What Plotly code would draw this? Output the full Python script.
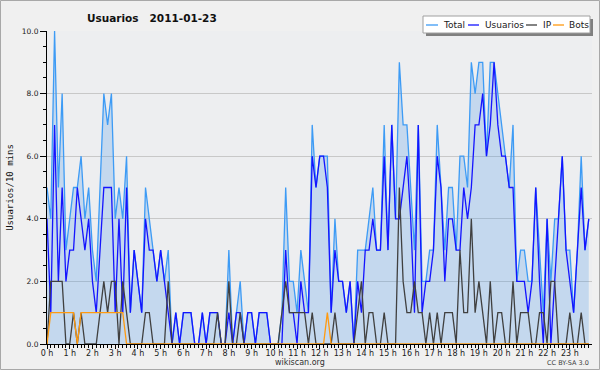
import plotly.graph_objects as go
import pandas as pd

# ---------------- data (10-minute intervals, 2011-01-23) ----------------
times = pd.date_range("2011-01-23 00:00", periods=144, freq="10min")

total = [
    5, 4, 10, 5, 8, 3, 4, 5, 5, 6, 4, 5, 3, 2, 5, 8, 7, 8, 4, 5, 4, 6, 1, 3, 2,
    1, 5, 4, 3, 2, 3, 2, 3, 0, 1, 0, 1, 1, 1, 0, 0, 1, 0, 1, 1, 1, 0, 0, 3, 0,
    1, 2, 0, 1, 1, 0, 1, 1, 1, 0, 0, 0, 1, 5, 2, 2, 1, 3, 2, 1, 7, 5, 6, 6, 6,
    1, 4, 2, 2, 1, 2, 0, 3, 3, 3, 4, 5, 3, 3, 7, 3, 7, 4, 9, 7, 7, 5, 3, 7,
    2, 2, 3, 3, 7, 5, 3, 5, 5, 3, 6, 6, 5, 9, 8, 9, 9, 6, 9, 9, 8, 7, 6, 5, 7,
    2, 3, 3, 2, 2, 5, 3, 1, 4, 2, 4, 4, 6, 3, 3, 1, 3, 6, 3, 4,
]
usuarios = [
    4, 1, 7, 2, 5, 2, 3, 3, 5, 4, 3, 4, 2, 1, 3, 5, 5, 5, 1, 4, 1, 5, 1, 3, 2,
    1, 4, 3, 3, 2, 3, 2, 1, 0, 1, 0, 1, 1, 1, 0, 0, 1, 0, 1, 1, 1, 0, 0, 1, 0,
    1, 1, 0, 1, 1, 0, 1, 1, 1, 0, 0, 0, 0, 3, 1, 1, 0, 2, 1, 1, 6, 5, 6, 6, 5,
    1, 3, 2, 2, 1, 2, 0, 2, 1, 3, 3, 4, 3, 3, 6, 3, 7, 4, 4, 5, 6, 4, 1, 7,
    1, 2, 2, 3, 6, 5, 2, 4, 4, 3, 3, 5, 4, 5, 7, 7, 8, 6, 7, 9, 7, 6, 6, 5, 5,
    2, 2, 2, 1, 2, 5, 2, 0, 4, 0, 2, 4, 6, 3, 2, 1, 3, 5, 3, 4,
]
ip = [
    0, 2, 2, 2, 2, 0, 0, 1, 0, 1, 0, 0, 0, 0, 1, 2, 1, 2, 2, 0, 2, 1, 0, 0, 0,
    0, 1, 1, 0, 0, 0, 0, 2, 0, 0, 0, 0, 0, 0, 0, 0, 0, 0, 0, 0, 1, 0, 0, 2, 0,
    0, 1, 0, 0, 0, 0, 0, 0, 0, 0, 0, 0, 1, 2, 1, 1, 1, 1, 1, 0, 1, 0, 0, 0, 0,
    0, 1, 0, 0, 0, 0, 0, 1, 2, 0, 1, 1, 0, 0, 1, 0, 0, 0, 5, 2, 1, 1, 2, 1,
    1, 0, 1, 0, 1, 0, 1, 1, 1, 0, 3, 1, 1, 4, 1, 2, 1, 0, 2, 0, 1, 1, 0, 0, 2,
    0, 1, 1, 1, 0, 0, 1, 1, 0, 2, 2, 0, 0, 0, 1, 0, 0, 1, 0, 0,
]
bots = [
    0, 1, 1, 1, 1, 1, 1, 1, 0, 1, 1, 1, 1, 1, 1, 1, 1, 1, 1, 1, 1, 0, 0, 0, 0,
    0, 0, 0, 0, 0, 0, 0, 0, 0, 0, 0, 0, 0, 0, 0, 0, 0, 0, 0, 0, 0, 0, 0, 0, 0,
    0, 0, 0, 0, 0, 0, 0, 0, 0, 0, 0, 0, 0, 0, 0, 0, 0, 0, 0, 0, 0, 0, 0, 0, 1,
    0, 0, 0, 0, 0, 0, 0, 0, 0, 0, 0, 0, 0, 0, 0, 0, 0, 0, 0, 0, 0, 0, 0, 0,
    0, 0, 0, 0, 0, 0, 0, 0, 0, 0, 0, 0, 0, 0, 0, 0, 0, 0, 0, 0, 0, 0, 0, 0, 0,
    0, 0, 0, 0, 0, 0, 0, 0, 0, 0, 0, 0, 0, 0, 0, 0, 0, 0, 0, 0,
]

series_names = ["Total", "Usuarios", "IP", "Bots"]
series_colors = ["#3d9bf5", "#1414ff", "#404040", "#ff9a10"]

title_text = "Usuarios\u00a0\u00a0\u00a02011-01-23"
y_title = "Usuarios/10 mins"
footer = "wikiscan.org"
license_text = "CC BY-SA 3.0"

# ---------------- geometry helpers ----------------
W, H = 600, 370
L, R, T, B = 47, 8, 31, 26
PW, PH = W - L - R, H - T - B


def px(x):
    return (x - L) / PW


def py(y):
    return (H - B - y) / PH


SANS = "DejaVu Sans, Verdana, sans-serif"
MONO = "DejaVu Sans Mono, Liberation Mono, monospace"

fig = go.Figure()
fig.add_trace(go.Scatter(x=times, y=total, name=series_names[0], mode="lines",
                         line=dict(color=series_colors[0], width=1.3),
                         fill="tozeroy", fillcolor="rgba(51,140,230,0.22)"))
fig.add_trace(go.Scatter(x=times, y=usuarios, name=series_names[1], mode="lines",
                         line=dict(color=series_colors[1], width=1.3)))
fig.add_trace(go.Scatter(x=times, y=ip, name=series_names[2], mode="lines",
                         line=dict(color=series_colors[2], width=1.3)))
fig.add_trace(go.Scatter(x=times, y=bots, name=series_names[3], mode="lines",
                         line=dict(color=series_colors[3], width=1.3)))

shapes = []
annotations = []

# outer frame
shapes.append(dict(type="rect", xref="paper", yref="paper",
                   x0=px(0.5), x1=px(W - 0.5), y0=py(0.5), y1=py(H - 0.5),
                   line=dict(color="#a8a8a8", width=1), layer="below"))

# legend box (with shadow)
shapes.append(dict(type="rect", xref="paper", yref="paper",
                   x0=px(426), x1=px(593), y0=py(19), y1=py(36),
                   line=dict(width=0), fillcolor="#808080", layer="above"))
shapes.append(dict(type="rect", xref="paper", yref="paper",
                   x0=px(423), x1=px(590), y0=py(16), y1=py(33),
                   line=dict(color="#a0a0a0", width=1), fillcolor="#ffffff", layer="above"))
legend_pos = [(426, 438, 442), (468, 479, 484), (526, 537, 542), (553, 564, 568)]
for (lx0, lx1, tx), name, col in zip(legend_pos, series_names, series_colors):
    shapes.append(dict(type="line", xref="paper", yref="paper",
                       x0=px(lx0), x1=px(lx1), y0=py(25), y1=py(25),
                       line=dict(color=col, width=1.3), layer="above"))
    annotations.append(dict(text=name, xref="paper", yref="paper", x=px(tx), y=py(25),
                            xanchor="left", yanchor="middle", showarrow=False, borderpad=0,
                            font=dict(family=SANS, size=9, color="#202020")))

annotations.append(dict(text="<b>" + title_text + "</b>", xref="paper", yref="paper",
                        x=px(86), y=py(17.5), xanchor="left", yanchor="middle",
                        showarrow=False, borderpad=0,
                        font=dict(family=SANS, size=10.5, color="#101010")))
annotations.append(dict(text=footer, xref="paper", yref="paper",
                        x=px(300), y=py(362), xanchor="center", yanchor="middle",
                        showarrow=False, borderpad=0,
                        font=dict(family=SANS, size=8, color="#303030")))
annotations.append(dict(text=license_text, xref="paper", yref="paper",
                        x=px(590), y=py(363), xanchor="right", yanchor="middle",
                        showarrow=False, borderpad=0,
                        font=dict(family=SANS, size=6.5, color="#404040")))

fig.update_layout(
    width=W, height=H,
    margin=dict(l=L, r=R, t=T, b=B, pad=0, autoexpand=False),
    paper_bgcolor="#f0f0f0",
    plot_bgcolor="#edeef0",
    showlegend=False,
    shapes=shapes,
    annotations=annotations,
    xaxis=dict(
        type="date",
        range=["2011-01-23 00:00:00", "2011-01-23 23:58:30"],
        tick0="2011-01-23 00:00:00", dtick=3600000, tickformat="%-H h",
        ticks="outside", ticklen=4, tickcolor="black", tickwidth=1,
        ticklabelstandoff=-3,
        showline=True, linecolor="black", linewidth=1,
        showgrid=False, zeroline=False, automargin=False,
        tickfont=dict(family=SANS, size=8, color="#202020"),
        minor=dict(dtick=600000, tick0="2011-01-23 00:00:00", ticks="outside",
                   ticklen=3, tickcolor="black", showgrid=False),
        fixedrange=True,
    ),
    yaxis=dict(
        range=[0, 10], dtick=2, tick0=0, tickformat=".1f",
        ticks="outside", ticklen=6, tickcolor="black", tickwidth=1,
        showline=True, linecolor="black", linewidth=1,
        showgrid=True, gridcolor="#c8c8c8", gridwidth=1, zeroline=False,
        automargin=False,
        tickfont=dict(family=SANS, size=7.5, color="#202020"),
        minor=dict(dtick=0.5, ticks="outside", ticklen=3, tickcolor="black", showgrid=False),
        title=dict(text=y_title, font=dict(family=MONO, size=9, color="#101010"), standoff=6),
        fixedrange=True,
    ),
)

fig.write_html("out.html", config={"displayModeBar": False},
               post_script="document.body.style.margin='0px';")
